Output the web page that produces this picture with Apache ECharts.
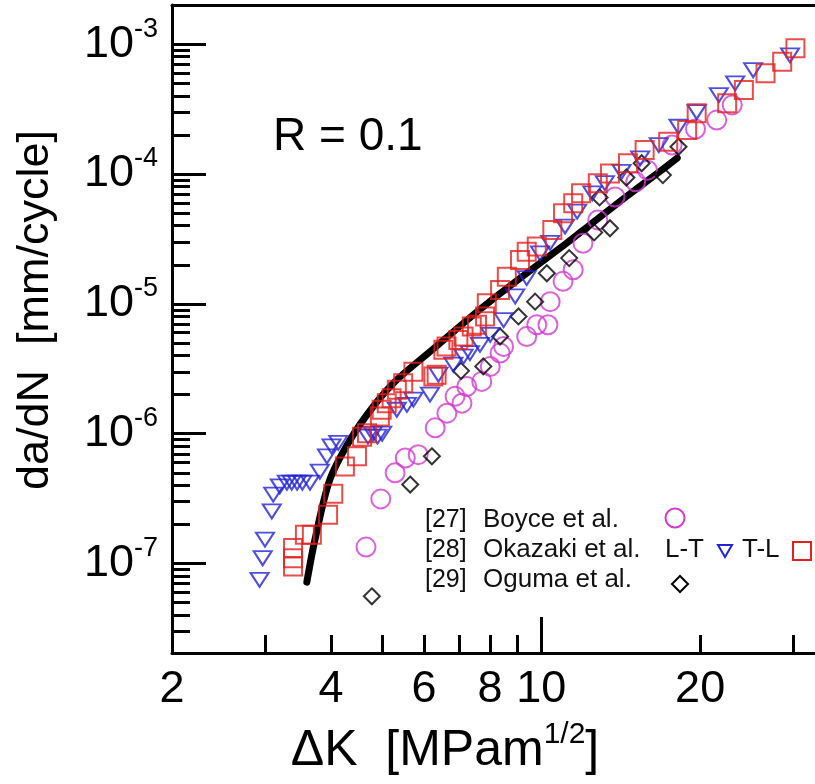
<!DOCTYPE html>
<html>
<head>
<meta charset="utf-8">
<script src="https://cdn.jsdelivr.net/npm/echarts@6/dist/echarts.min.js"></script>
<style>html,body{margin:0;padding:0;background:#fff}#c{width:815px;height:784px}</style>
</head>
<body>
<div id="c"></div>
<script>
// ---- data (ΔK [MPa m^1/2], da/dN [mm/cycle]) ----
const boyceK = [4.66,4.97,5.29,5.53,5.85,6.30,6.63,6.87,7.08,7.23,7.72,8.01,8.36,8.49,9.39,9.81,10.3,10.4,11.0,11.5,12.0,12.8,13.8,15.1,15.9,17.7,19.6,21.5,23.0];
const boyceRate = [1.34e-7,3.15e-7,5.0e-7,6.5e-7,6.9e-7,1.11e-6,1.44e-6,1.94e-6,1.72e-6,2.31e-6,2.53e-6,3.3e-6,4.18e-6,4.7e-6,5.6e-6,6.9e-6,6.9e-6,1.04e-5,1.49e-5,1.83e-5,2.93e-5,4.43e-5,6.65e-5,8.7e-5,1.07e-4,1.67e-4,2.22e-4,2.6e-4,3.4e-4];

const okazakiLTK = [2.93,2.97,3.00,3.09,3.11,3.20,3.30,3.37,3.45,3.53,3.65,3.81,3.93,4.01,4.13,4.70,4.80,4.90,5.00,5.33,5.57,5.73,6.16,6.39,6.82,7.13,7.33,7.66,8.01,8.49,8.93,9.39,9.95,10.4,11.1,11.7,12.5,13.2,14.2,15.4,16.7,18.2,19.7,21.7,23.3,25.2,29.6];
const okazakiLTRate = [7.5e-8,1.1e-7,1.53e-7,2.52e-7,3.4e-7,3.94e-7,4.2e-7,4.2e-7,4.2e-7,4.2e-7,4.2e-7,5.1e-7,6.7e-7,8.0e-7,8.5e-7,9.5e-7,1.0e-6,9.5e-7,1.0e-6,1.53e-6,1.67e-6,1.83e-6,2.0e-6,2.85e-6,3.4e-6,3.93e-6,4.18e-6,4.84e-6,5.78e-6,7.5e-6,1.14e-5,1.58e-5,2.45e-5,2.95e-5,3.94e-5,5.13e-5,7.1e-5,8.5e-5,1.04e-4,1.32e-4,1.67e-4,2.31e-4,3.0e-4,4.05e-4,4.99e-4,6.3e-4,8.2e-4];

const okazakiTLK = [3.39,3.39,3.39,3.57,3.68,3.95,4.04,4.25,4.48,4.58,4.68,4.95,4.99,5.10,5.21,5.33,5.48,5.73,6.25,6.34,6.53,6.62,6.97,7.13,7.39,7.56,7.83,7.89,8.36,8.61,9.12,9.39,9.81,10.5,11.0,11.5,11.9,12.8,13.5,14.6,15.7,17.4,18.9,19.7,22.5,24.2,26.6,28.6,30.3];
const okazakiTLRate = [9.5e-8,1.1e-7,1.32e-7,1.67e-7,1.67e-7,2.38e-7,3.45e-7,5.6e-7,6.7e-7,9.5e-7,1.01e-6,1.36e-6,1.53e-6,1.72e-6,1.88e-6,2.18e-6,2.45e-6,3.0e-6,2.76e-6,2.85e-6,4.43e-6,4.7e-6,5.28e-6,5.6e-6,6.7e-6,6.9e-6,7.98e-6,1.01e-5,1.28e-5,1.62e-5,2.18e-5,2.52e-5,2.76e-5,3.7e-5,4.99e-5,5.96e-5,7.1e-5,8.5e-5,1.01e-4,1.21e-4,1.53e-4,1.77e-4,2.18e-4,2.93e-4,3.5e-4,4.43e-4,5.96e-4,7.3e-4,9.3e-4];

const ogumaK = [4.78,5.65,6.21,7.05,7.77,8.36,9.06,9.74,10.25,11.3,12.6,13.5,12.9,14.5,15.5,17.0,18.2];
const ogumaRate = [5.6e-8,4.06e-7,6.7e-7,3.05e-6,3.3e-6,5.6e-6,8.0e-6,1.04e-5,1.72e-5,2.25e-5,3.55e-5,3.82e-5,6.6e-5,9.4e-5,1.21e-4,9.8e-5,1.62e-4];

const curveK = [3.60,3.73,3.98,4.35,4.81,5.33,6.25,7.24,8.36,9.66,11.2,12.5,14.5,16.8,18.1];
const curveRate = [7.2e-8,1.53e-7,4.43e-7,9.0e-7,1.62e-6,2.6e-6,4.5e-6,7.5e-6,1.2e-5,1.88e-5,2.95e-5,4.2e-5,6.7e-5,1.05e-4,1.33e-4];

// ---- axis tick / label values ----
const xTickLabels = [2,4,6,8,10,20];
const xMinorTicks = [3,4,5,6,7,8,9,20,30];
const xMajorTicks = [10];
const yDecadeExponents = [-7,-6,-5,-4,-3];
const yMinorMultipliers = [2,3,4,5,6,7,8,9];
const yMinorDecades = [-8,-7,-6,-5,-4,-3];

const X_MIN = 2, X_MAX = 33, Y_MIN = 2.05e-8, Y_MAX = 2e-3;
const lg = Math.log10;
const FONT = '"Liberation Sans", Arial, Helvetica, sans-serif';
const C_MAG = '#d23ad2', C_BLUE = '#2222d8', C_RED = '#e3201e', C_BLACK = '#000';

const zip = (a, b) => a.map((v, i) => [v, b[i]]);
const yMinorTicks = [];
yMinorDecades.forEach(e => yMinorMultipliers.forEach(m => yMinorTicks.push(lg(m) + e)));

const chart = echarts.init(document.getElementById('c'), null, {renderer: 'canvas'});

const valX = (extra) => Object.assign({
  type: 'value', min: lg(X_MIN), max: lg(X_MAX), splitLine: {show: false},
  axisLine: {show: false}, axisTick: {show: false}, axisLabel: {show: false}
}, extra);
const valY = (extra) => Object.assign({
  type: 'value', min: lg(Y_MIN), max: lg(Y_MAX), splitLine: {show: false},
  axisLine: {show: false}, axisTick: {show: false}, axisLabel: {show: false}
}, extra);
const lineSt = {color: '#000', width: 3};

const hollow = (color) => ({color: 'rgba(0,0,0,0)', borderColor: color, borderWidth: 2});

const option = {
  animation: false,
  backgroundColor: '#fff',
  grid: {left: 172, top: 5, right: 0, bottom: 131, containLabel: false, outerBoundsMode: 'none'},
  xAxis: [
    {type: 'log', min: X_MIN, max: X_MAX, show: false},
    valX({position: 'bottom',
      axisLine: {show: true, onZero: false, lineStyle: lineSt},
      axisTick: {show: true, inside: true, length: 18, customValues: xMinorTicks.map(lg), lineStyle: lineSt},
      axisLabel: {show: true, customValues: xTickLabels.map(lg), hideOverlap: false, margin: 14,
        formatter: v => String(Math.round(Math.pow(10, v))), fontSize: 45, color: '#000', fontFamily: FONT}}),
    valX({position: 'bottom',
      axisTick: {show: true, inside: true, length: 36, customValues: xMajorTicks.map(lg), lineStyle: lineSt}}),
    valX({position: 'top', axisLine: {show: true, onZero: false, lineStyle: lineSt}})
  ],
  yAxis: [
    {type: 'log', min: Y_MIN, max: Y_MAX, show: false},
    valY({position: 'left',
      axisLine: {show: true, onZero: false, lineStyle: lineSt},
      axisTick: {show: true, inside: true, length: 18, customValues: yMinorTicks, lineStyle: lineSt}}),
    valY({position: 'left',
      axisTick: {show: true, inside: true, length: 34, customValues: yDecadeExponents, lineStyle: lineSt},
      axisLabel: {show: true, customValues: yDecadeExponents, hideOverlap: false, margin: 14,
        fontSize: 45, color: '#000', fontFamily: FONT,
        formatter: v => '{b|10}{s|' + Math.round(v) + '}',
        rich: {
          b: {fontSize: 45, fontFamily: FONT, color: '#000'},
          s: {fontSize: 27, fontFamily: FONT, color: '#000', padding: [0, 0, 30, 0]}
        }}})
  ],
  series: [
    {type: 'line', name: 'fit', data: zip(curveK, curveRate), xAxisIndex: 0, yAxisIndex: 0,
      showSymbol: false, smooth: 0.3, lineStyle: {color: '#000', width: 7, cap: 'round'}, z: 2, silent: true},
    {type: 'scatter', name: 'Boyce', data: zip(boyceK, boyceRate), xAxisIndex: 0, yAxisIndex: 0,
      symbol: 'circle', symbolSize: 19, itemStyle: hollow(C_MAG), z: 3, silent: true},
    {type: 'scatter', name: 'Oguma', data: zip(ogumaK, ogumaRate), xAxisIndex: 0, yAxisIndex: 0,
      symbol: 'diamond', symbolSize: 16, itemStyle: hollow(C_BLACK), z: 3, silent: true},
    {type: 'scatter', name: 'Okazaki L-T', data: zip(okazakiLTK, okazakiLTRate), xAxisIndex: 0, yAxisIndex: 0,
      symbol: 'triangle', symbolRotate: 180, symbolSize: [18, 14], itemStyle: hollow(C_BLUE), z: 3, silent: true},
    {type: 'scatter', name: 'Okazaki T-L', data: zip(okazakiTLK, okazakiTLRate), xAxisIndex: 0, yAxisIndex: 0,
      symbol: 'rect', symbolSize: 18, itemStyle: hollow(C_RED), z: 4, silent: true}
  ],
  graphic: [
    {type: 'text', x: 273, y: 137, style: {text: 'R = 0.1', fontSize: 46, fontFamily: FONT, fill: '#000', textVerticalAlign: 'middle'}},
    {type: 'text', x: 445, y: 751, style: {
      text: '{n|ΔK  [MPam}{s|1/2}{n|]}', textAlign: 'center', textVerticalAlign: 'middle', fill: '#000',
      rich: {n: {fontSize: 50, fontFamily: FONT, fill: '#000'}, s: {fontSize: 30, fontFamily: FONT, fill: '#000', padding: [0, 0, 32, 0]}}}},
    {type: 'text', x: 36, y: 310, rotation: Math.PI / 2, style: {
      text: 'da/dN  [mm/cycle]', fontSize: 45, fontFamily: FONT, fill: '#000', textAlign: 'center', textVerticalAlign: 'middle'}},
    // legend
    {type: 'text', x: 425, y: 520, style: {text: '[27]', fontSize: 25, fontFamily: FONT, fill: '#111', textVerticalAlign: 'middle'}},
    {type: 'text', x: 483, y: 520, style: {text: 'Boyce et al.', fontSize: 26, fontFamily: FONT, fill: '#111', textVerticalAlign: 'middle'}},
    {type: 'circle', shape: {cx: 675, cy: 518, r: 9.5}, style: {fill: 'none', stroke: C_MAG, lineWidth: 2}},
    {type: 'text', x: 425, y: 550, style: {text: '[28]', fontSize: 25, fontFamily: FONT, fill: '#111', textVerticalAlign: 'middle'}},
    {type: 'text', x: 483, y: 550, style: {text: 'Okazaki et al.', fontSize: 26, fontFamily: FONT, fill: '#111', textVerticalAlign: 'middle'}},
    {type: 'text', x: 665, y: 550, style: {text: 'L-T', fontSize: 26, fontFamily: FONT, fill: '#111', textVerticalAlign: 'middle'}},
    {type: 'polygon', shape: {points: [[718, 545], [732, 545], [725, 557]]}, style: {fill: 'none', stroke: C_BLUE, lineWidth: 2}},
    {type: 'text', x: 742, y: 550, style: {text: 'T-L', fontSize: 26, fontFamily: FONT, fill: '#111', textVerticalAlign: 'middle'}},
    {type: 'rect', shape: {x: 793, y: 542, width: 18, height: 18}, style: {fill: 'none', stroke: C_RED, lineWidth: 2}},
    {type: 'text', x: 425, y: 580, style: {text: '[29]', fontSize: 25, fontFamily: FONT, fill: '#111', textVerticalAlign: 'middle'}},
    {type: 'text', x: 483, y: 580, style: {text: 'Oguma et al.', fontSize: 26, fontFamily: FONT, fill: '#111', textVerticalAlign: 'middle'}},
    {type: 'polygon', shape: {points: [[680, 576], [688, 584], [680, 592], [672, 584]]}, style: {fill: 'none', stroke: C_BLACK, lineWidth: 2}}
  ]
};
chart.setOption(option);
</script>
</body>
</html>
